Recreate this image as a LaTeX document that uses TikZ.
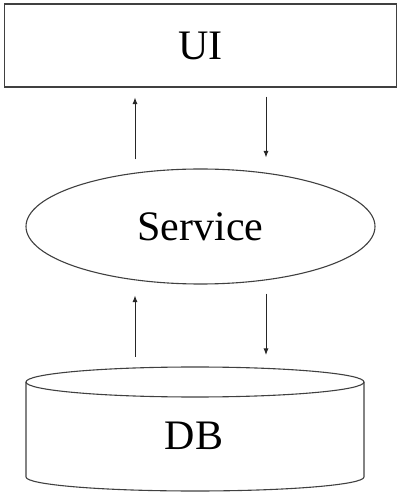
\documentclass[tikz,border=0pt]{standalone}
\usepackage{fontspec}
\setmainfont{Liberation Serif}
\usetikzlibrary{shapes.geometric,arrows.meta}
\begin{document}
\begin{tikzpicture}[x=1pt,y=1pt,
  shapeline/.style={draw=black!75,line width=1.1pt},
  lbl/.style={font=\fontsize{42}{44}\selectfont},
  arr/.style={draw=black!85,line width=0.9pt,-{Latex[length=6.5pt,width=5pt]}}]
\useasboundingbox (0,0) rectangle (397,493);
\node[shapeline,rectangle,minimum width=392pt,minimum height=83pt,inner sep=0pt,lbl] (ui) at (200.5,447.5) {UI};
\node[shapeline,ellipse,minimum width=349pt,minimum height=115pt,inner sep=0pt,lbl] (svc) at (200.5,266.5) {Service};
% cylinder
\coordinate (dbtop) at (195,126);
\draw[shapeline] (195,111) ellipse [x radius=169pt,y radius=15pt];
\draw[shapeline] (26,111) -- (26,16) arc[start angle=180,end angle=360,x radius=169pt,y radius=14pt] -- (364,111);
\node[lbl] (db) at (194,57) {DB};
% connectors
\coordinate (la) at ([xshift=-65.5pt]svc.center);
\coordinate (ra) at ([xshift=65.5pt]svc.center);
\draw[arr,shorten <=9pt,shorten >=10pt] (svc.north -| la) -- (ui.south -| la);
\draw[arr,shorten <=9pt,shorten >=11pt] (ui.south -| ra) -- (svc.north -| ra);
\draw[arr,shorten <=10pt,shorten >=11pt] (dbtop -| la) -- (svc.south -| la);
\draw[arr,shorten <=9pt,shorten >=12pt] (svc.south -| ra) -- (dbtop -| ra);
\end{tikzpicture}
\end{document}
